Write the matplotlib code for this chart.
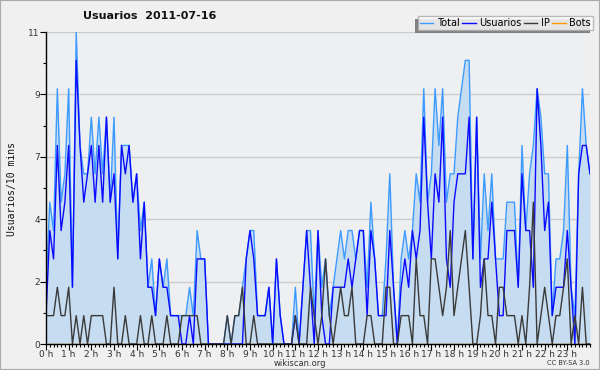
import matplotlib
matplotlib.use("Agg")
import matplotlib.pyplot as plt
from matplotlib.patches import Rectangle
from matplotlib.ticker import FixedLocator, MultipleLocator
import numpy as np

title = "Usuarios  2011-07-16"
ylabel = "Usuarios/10 mins"
series_names = ["Total", "Usuarios", "IP", "Bots"]

total = [2, 5, 4, 9, 5, 6, 9, 2, 11, 7, 6, 6, 8, 6, 8, 6, 8, 5, 8, 3,
         7, 7, 7, 5, 6, 4, 5, 2, 3, 1, 3, 2, 3, 1, 1, 1, 1, 1, 2, 1,
         4, 3, 3, 0, 0, 0, 0, 0, 1, 0, 1, 1, 2, 3, 4, 4, 1, 1, 1, 2,
         0, 3, 1, 0, 0, 0, 2, 0, 2, 4, 4, 1, 4, 2, 3, 1, 2, 3, 4, 3,
         4, 4, 3, 4, 4, 2, 5, 3, 1, 1, 3, 6, 2, 0, 3, 4, 3, 4, 6, 5,
         9, 5, 6, 9, 7, 9, 5, 6, 6, 8, 9, 10, 10, 3, 8, 3, 6, 4, 6, 3,
         3, 3, 5, 5, 5, 2, 7, 4, 6, 7, 9, 8, 6, 6, 1, 3, 3, 4, 7, 2,
         1, 6, 9, 7, 6]
usuarios = [1, 4, 3, 7, 4, 5, 7, 2, 10, 7, 5, 6, 7, 5, 7, 5, 8, 5, 6, 3,
            7, 6, 7, 5, 6, 3, 5, 2, 2, 1, 3, 2, 2, 1, 1, 1, 0, 0, 1, 0,
            3, 3, 3, 0, 0, 0, 0, 0, 0, 0, 0, 0, 0, 3, 4, 3, 1, 1, 1, 2,
            0, 3, 1, 0, 0, 0, 1, 0, 2, 4, 2, 0, 4, 1, 0, 0, 2, 2, 2, 2,
            3, 2, 3, 4, 4, 1, 4, 3, 1, 1, 1, 4, 2, 0, 2, 3, 2, 4, 3, 4,
            8, 5, 3, 6, 5, 8, 3, 2, 5, 6, 6, 6, 8, 3, 8, 2, 3, 3, 5, 3,
            1, 1, 4, 4, 4, 2, 6, 4, 4, 2, 9, 7, 4, 5, 1, 2, 2, 2, 4, 2,
            0, 6, 7, 7, 6]
ip = [1, 1, 1, 2, 1, 1, 2, 0, 1, 0, 1, 0, 1, 1, 1, 1, 0, 0, 2, 0,
      0, 1, 0, 0, 0, 1, 0, 0, 1, 0, 0, 0, 1, 0, 0, 0, 1, 1, 1, 1,
      1, 0, 0, 0, 0, 0, 0, 0, 1, 0, 1, 1, 2, 0, 0, 1, 0, 0, 0, 0,
      0, 0, 0, 0, 0, 0, 1, 0, 0, 0, 2, 1, 0, 1, 3, 1, 0, 1, 2, 1,
      1, 2, 0, 0, 0, 1, 1, 0, 0, 0, 2, 2, 0, 0, 1, 1, 1, 0, 3, 1,
      1, 0, 3, 3, 2, 1, 2, 4, 1, 2, 3, 4, 2, 0, 0, 1, 3, 1, 1, 0,
      2, 2, 1, 1, 1, 0, 1, 0, 2, 5, 0, 1, 2, 1, 0, 1, 1, 2, 3, 0,
      1, 0, 2, 0, 0]
bots = [0] * len(total)

hours = np.arange(len(total)) / 6.0
hour_ticks = list(range(24))
hour_labels = [f"{h} h" for h in hour_ticks]
ytick_vals = [0, 2.2, 4.4, 6.6, 8.8, 11]
ytick_labels = ["0", "2", "4", "7", "9", "11"]

c_total = "#3d9bff"
c_usu = "#0a0aff"
c_ip = "#3a3a3a"
c_bots = "#ff9900"
c_fill = "#c6dcf0"

fig = plt.figure(figsize=(6.0, 3.7), dpi=100, facecolor="#f0f0f0")
fig.add_artist(Rectangle((0, 0), 1, 1, transform=fig.transFigure, fill=False,
                         edgecolor="#aaaaaa", linewidth=1.5, zorder=10))
ax = fig.add_axes([46 / 600, 26 / 370, 544 / 600, 312 / 370])
ax.set_facecolor("#eeeff1")

ax.fill_between(hours, total, 0, color=c_fill, linewidth=0, zorder=1)
ax.plot(hours, total, color=c_total, lw=1.0, zorder=3)
ax.plot(hours, usuarios, color=c_usu, lw=1.0, zorder=4)
ax.plot(hours, ip, color=c_ip, lw=1.0, zorder=5)
ax.plot(hours, bots, color=c_bots, lw=1.0, zorder=2)

ax.set_xlim(0, 24)
ax.set_ylim(0, 11)
ax.yaxis.set_major_locator(FixedLocator(ytick_vals))
ax.set_yticklabels(ytick_labels)
ax.yaxis.set_minor_locator(FixedLocator([1.1, 3.3, 5.5, 7.7, 9.9]))
ax.xaxis.set_major_locator(FixedLocator(hour_ticks))
ax.set_xticklabels(hour_labels)
ax.xaxis.set_minor_locator(MultipleLocator(1 / 6))
ax.grid(axis="y", color="#cccccc", lw=1.0, zorder=0)
ax.set_axisbelow(True)
for s in ["top", "right"]:
    ax.spines[s].set_visible(False)
for s in ["left", "bottom"]:
    ax.spines[s].set_color("black")
    ax.spines[s].set_linewidth(1.0)
    ax.spines[s].set_zorder(6)
ax.tick_params(axis="both", which="major", labelsize=6.5, colors="black",
               labelcolor="#333333", length=4, width=0.8, pad=0.5)
ax.tick_params(axis="both", which="minor", length=2.5, width=0.8)

fig.text(0.012, 1 - 189 / 370, ylabel, rotation=90, va="center", ha="left",
         family="DejaVu Sans Mono", fontsize=7, color="#111111")
fig.text(0.25, 1 - 16 / 370, title, ha="center", va="center",
         fontsize=8, fontweight="bold", color="#111111")
fig.text(0.5, 1 - 363 / 370, "wikiscan.org", ha="center", va="center",
         fontsize=6, color="#333333")
fig.text(0.983, 1 - 363 / 370, "CC BY-SA 3.0", ha="right", va="center",
         fontsize=4.8, color="#333333")

handles = [plt.Line2D([], [], color=c, lw=1.0) for c in (c_total, c_usu, c_ip, c_bots)]
leg = fig.legend(handles, series_names, loc="upper right",
                 bbox_to_anchor=(593 / 600, 1 - 16 / 370), ncol=4,
                 fontsize=7, frameon=True, fancybox=False,
                 handlelength=1.4, handletextpad=0.4, columnspacing=0.2,
                 borderpad=0.2, borderaxespad=0)
leg.get_frame().set_edgecolor("#aaaaaa")
leg.get_frame().set_facecolor("white")
leg.get_frame().set_linewidth(1.0)
leg.set_zorder(20)
fig.canvas.draw()
bb = leg.get_window_extent()
fig.add_artist(Rectangle((bb.x0 - 3, bb.y0 - 3), bb.width, bb.height,
                         transform=None, facecolor="#808080",
                         edgecolor="none", zorder=19))

fig.savefig("out.png", dpi=100, facecolor=fig.get_facecolor())
